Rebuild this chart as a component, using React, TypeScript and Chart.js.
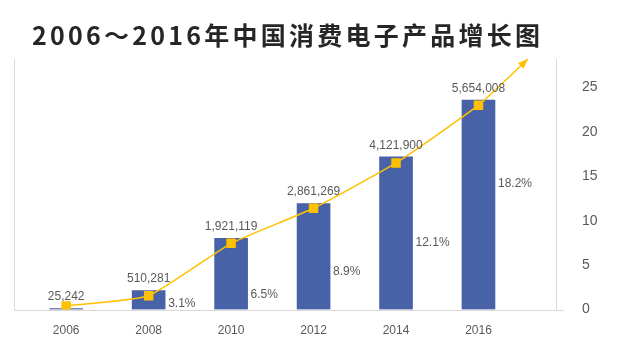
import React, { useEffect, useRef } from 'react';
import { Chart, registerables } from 'chart.js';

Chart.register(...registerables);

// ---- data ----
const years = ['2006', '2008', '2010', '2012', '2014', '2016'];
const salesValues = [25242, 510281, 1921119, 2861269, 4121900, 5654008];
const trendValues = [0.4, 1.55, 7.45, 11.4, 16.5, 23.0];
const trendArrowEndX = 5.6;
const trendArrowEndY = 28.2;
const growthLabels = ['', '3.1%', '6.5%', '8.9%', '12.1%', '18.2%'];
const growthLabelLevels = [0, 0.62, 1.63, 4.26, 7.5, 14.2];
const titleText = '2006～2016年中国消费电子产品增长图';

const BAR_COLOR = '#4862A8';
const LINE_COLOR = '#FFC000';
const TEXT_COLOR = '#595959';
const AXIS_LINE = '#D9D9D9';
const LABEL_FONT = "12px 'Liberation Sans', Arial, sans-serif";

const fmt = (v: number) => v.toLocaleString('en-US');

const decorPlugin = {
  id: 'decor',
  beforeDatasetsDraw(chart: any) {
    const { ctx, chartArea } = chart;
    ctx.save();
    ctx.strokeStyle = AXIS_LINE;
    ctx.lineWidth = 1;
    ctx.beginPath();
    const l = Math.round(chartArea.left) + 0.5;
    const r = Math.round(chartArea.right) + 0.5;
    const b = Math.round(chartArea.bottom) + 0.5;
    ctx.moveTo(l, chartArea.top);
    ctx.lineTo(l, b);
    ctx.moveTo(r, chartArea.top);
    ctx.lineTo(r, b);
    ctx.moveTo(l, b);
    ctx.lineTo(r + 7, b);
    ctx.stroke();
    ctx.restore();
  },
  afterDatasetsDraw(chart: any) {
    const { ctx } = chart;
    const barMeta = chart.getDatasetMeta(0);
    const lineMeta = chart.getDatasetMeta(1);
    ctx.save();
    ctx.font = LABEL_FONT;
    ctx.fillStyle = TEXT_COLOR;
    ctx.textAlign = 'center';
    ctx.textBaseline = 'middle';
    barMeta.data.forEach((bar: any, i: number) => {
      ctx.fillText(fmt(salesValues[i]), bar.x, bar.y - 11.5);
    });
    ctx.textAlign = 'left';
    const xs = chart.scales.x;
    const ys = chart.scales.y1;
    growthLabels.forEach((t, i) => {
      if (!t) return;
      ctx.fillText(t, xs.getPixelForValue(i) + 19.5, ys.getPixelForValue(growthLabelLevels[i]));
    });
    // arrow head
    const pts = lineMeta.data;
    const end = pts[pts.length - 1];
    const prev = pts[pts.length - 2];
    const ang = Math.atan2(end.y - prev.y, end.x - prev.x);
    const len = 10;
    const half = 4;
    ctx.fillStyle = LINE_COLOR;
    ctx.beginPath();
    ctx.moveTo(end.x, end.y);
    ctx.lineTo(
      end.x - len * Math.cos(ang) + half * Math.sin(ang),
      end.y - len * Math.sin(ang) - half * Math.cos(ang)
    );
    ctx.lineTo(
      end.x - len * Math.cos(ang) - half * Math.sin(ang),
      end.y - len * Math.sin(ang) + half * Math.cos(ang)
    );
    ctx.closePath();
    ctx.fill();
    ctx.restore();
  },
};

export default function App() {
  const ref = useRef<HTMLCanvasElement | null>(null);

  useEffect(() => {
    if (!ref.current) return;
    const barData = salesValues.map((v, i) => ({ x: i, y: v }));
    const lineData = trendValues
      .map((v, i) => ({ x: i, y: v }))
      .concat([{ x: trendArrowEndX, y: trendArrowEndY }]);
    const radii = trendValues.map(() => 6.7).concat([0]);

    const chart = new Chart(ref.current, {
      type: 'bar',
      data: {
        datasets: [
          {
            type: 'bar',
            data: barData as any,
            backgroundColor: BAR_COLOR,
            barThickness: 33,
            yAxisID: 'y',
            order: 2,
          } as any,
          {
            type: 'line',
            data: lineData as any,
            borderColor: LINE_COLOR,
            borderWidth: 1.5,
            backgroundColor: LINE_COLOR,
            pointStyle: 'rect',
            pointRadius: radii,
            pointBorderWidth: 0,
            pointBackgroundColor: LINE_COLOR,
            tension: 0.15,
            yAxisID: 'y1',
            order: 1,
          } as any,
        ],
      },
      options: {
        responsive: false,
        animation: false,
        layout: { padding: { top: 59, left: 14, right: 0, bottom: 0 } },
        plugins: {
          legend: { display: false },
          tooltip: { enabled: false },
          title: { display: false },
        },
        scales: {
          x: {
            type: 'linear',
            offset: false,
            min: -0.633,
            max: 5.934,
            grid: { display: false, drawTicks: false, offset: false },
            border: { display: false },
            ticks: {
              stepSize: 1,
              includeBounds: false,
              autoSkip: false,
              maxRotation: 0,
              padding: 14,
              color: TEXT_COLOR,
              font: { family: "'Liberation Sans', Arial, sans-serif", size: 12 },
              callback: (v: any) => (Number.isInteger(v) && years[v] ? years[v] : ''),
            },
            afterFit: (s: any) => {
              s.height = 54.5;
            },
          },
          y: {
            position: 'left',
            display: false,
            min: 0,
            max: 6760600,
          },
          y1: {
            position: 'right',
            min: 0,
            max: 28.2,
            grid: { display: false, drawTicks: false },
            border: { display: false },
            ticks: {
              stepSize: 5,
              includeBounds: false,
              padding: 26.5,
              color: TEXT_COLOR,
              font: { family: "'Liberation Sans', Arial, sans-serif", size: 14 },
            },
            afterFit: (s: any) => {
              s.width = 71.5;
            },
          },
        },
      } as any,
      plugins: [decorPlugin],
    });
    return () => chart.destroy();
  }, []);

  return (
    <div style={{ position: 'fixed', left: 0, top: 0, width: 627, height: 364, background: '#fff' }}>
      <canvas ref={ref} width={627} height={364} style={{ display: 'block' }} />
      <div
        style={{
          position: 'absolute',
          left: 32,
          top: 22,
          fontFamily: "'Noto Sans CJK SC', sans-serif",
          fontWeight: 700,
          fontSize: 25,
          lineHeight: '25px',
          letterSpacing: '3.25px',
          color: '#262626',
          whiteSpace: 'nowrap',
        }}
      >
        {titleText}
      </div>
    </div>
  );
}
